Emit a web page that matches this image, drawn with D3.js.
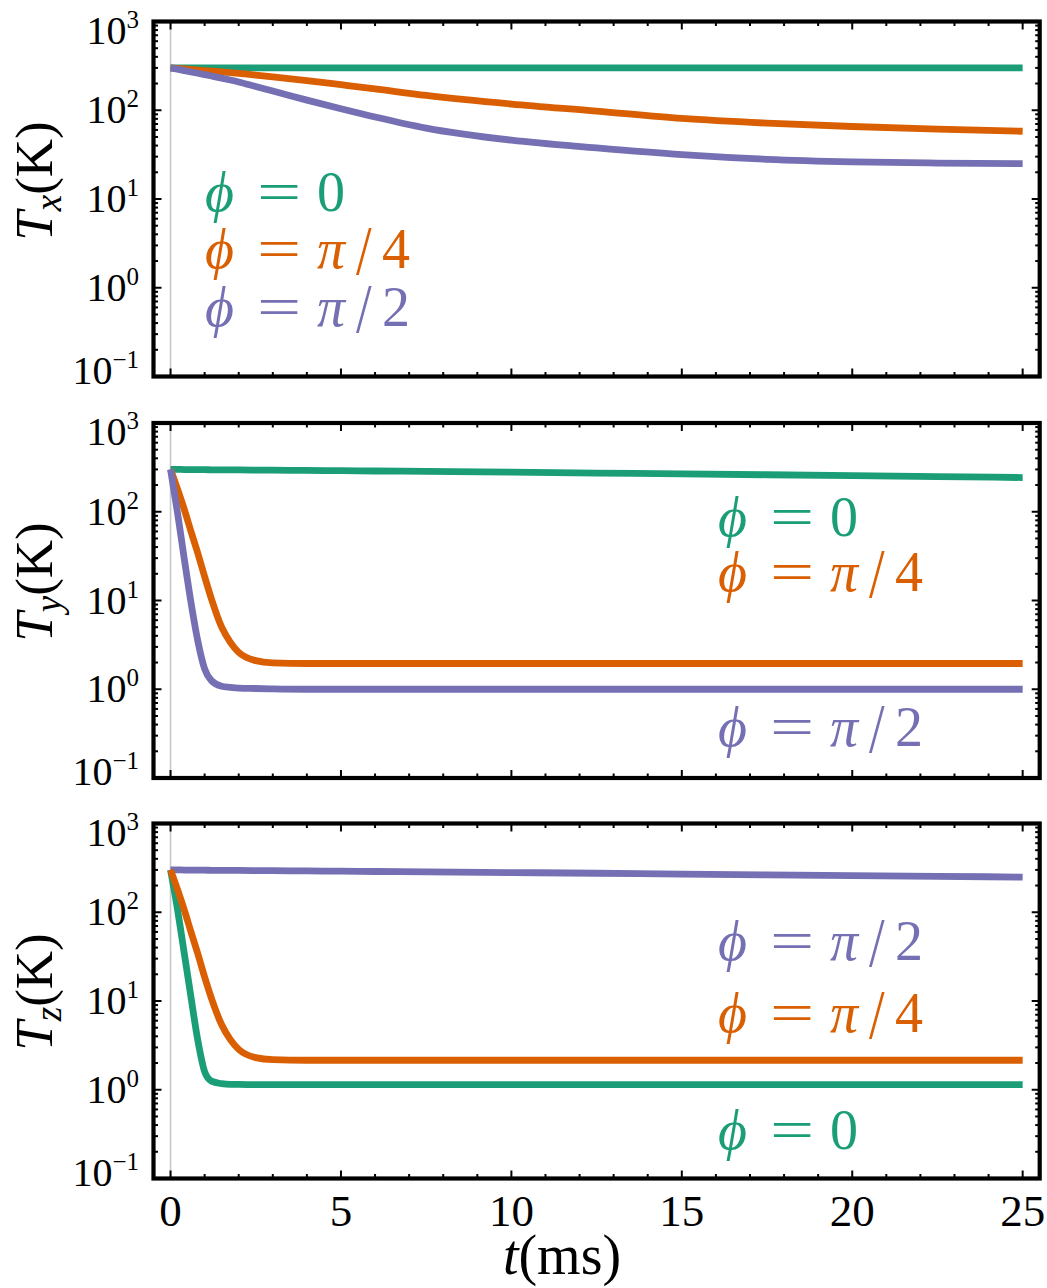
<!DOCTYPE html>
<html>
<head>
<meta charset="utf-8">
<script src="https://cdn.jsdelivr.net/npm/d3@7"></script>
<style>
  body { margin: 0; background: #fff; }
  text { font-family: "Liberation Serif", "DejaVu Serif", serif; fill: #000; }
</style>
</head>
<body>
<div id="chart"></div>
<script>
// sample times (ms), shared by every series
const times = [0, 0.2, 0.4, 0.6, 0.8, 1.0, 1.2, 1.5, 1.75, 2, 2.5, 3, 4, 5, 6, 7.5, 10, 12.5, 15, 17.5, 20, 22.5, 25];

// T_x (K)
const txPhi0  = [300, 300, 300, 300, 300, 300, 300, 300, 300, 300, 300, 300, 300, 300, 300, 300, 300, 300, 300, 300, 300, 300, 300];
const txPhi4  = [300, 296, 292, 288, 284, 280, 276, 271, 266, 260, 249, 238, 216, 194, 174, 147, 117.5, 98, 81, 71.6, 65.6, 61.4, 58];
const txPhi2  = [300, 290, 280, 270, 261, 252, 243, 230, 219, 208, 185, 165, 130, 104, 84, 63, 46, 37.6, 31.6, 28, 26.2, 25.4, 25];

// T_y (K)
const tyPhi0  = [300, 300, 299, 299, 298, 298, 297, 297, 296, 296, 295, 294, 292, 290, 288, 285, 279, 273, 267, 261, 255, 249, 243];
const tyPhi4  = [300, 182, 107, 60, 34, 18.6, 10.4, 5.0, 3.4, 2.6, 2.1, 1.98, 1.95, 1.95, 1.95, 1.95, 1.95, 1.95, 1.95, 1.95, 1.95, 1.95, 1.95];
const tyPhi2  = [300, 100, 30, 9.5, 3.5, 1.7, 1.25, 1.08, 1.05, 1.03, 1.02, 1.01, 1.0, 1.0, 1.0, 1.0, 1.0, 1.0, 1.0, 1.0, 1.0, 1.0, 1.0];

// T_z (K)
const tzPhi0  = [300, 110, 35, 11, 3.6, 1.6, 1.25, 1.17, 1.15, 1.15, 1.14, 1.14, 1.14, 1.14, 1.14, 1.14, 1.14, 1.14, 1.14, 1.14, 1.14, 1.14, 1.14];
const tzPhi4  = [300, 182, 107, 60, 34, 18.6, 10.7, 5.4, 3.7, 2.85, 2.3, 2.18, 2.15, 2.15, 2.15, 2.15, 2.15, 2.15, 2.15, 2.15, 2.15, 2.15, 2.15];
const tzPhi2  = [300, 300, 299, 299, 298, 298, 297, 297, 296, 296, 295, 294, 292, 290, 288, 285, 280, 275, 269, 264, 259, 254, 249];

const yExponents = [3, 2, 1, 0, -1];
const xTickValues = [0, 5, 10, 15, 20, 25];
const phiLabels = { phi0: "0", phi4: "4", phi2: "2" };

const colors = { phi0: "#1b9e77", phi4: "#d95f02", phi2: "#7570b3" };

const svg = d3.select("#chart")
    .append("svg")
    .attr("width", 1047)
    .attr("height", 1288);

const left = 153.5, right = 1039.7, panelH = 355;

const x = d3.scaleLinear().domain([-0.5, 25.5]).range([left, right]);

// one entry per panel: layout + which series go in it
const panels = [
    { top: 21.5, sub: "x", titleY: 181, series: [["phi0", txPhi0], ["phi4", txPhi4], ["phi2", txPhi2]],
      legend: { x: 205, rows: [["phi0", 211], ["phi4", 268], ["phi2", 326]] } },
    { top: 423, sub: "y", titleY: 582, series: [["phi0", tyPhi0], ["phi4", tyPhi4], ["phi2", tyPhi2]],
      legend: { x: 718, rows: [["phi0", 536], ["phi4", 591], ["phi2", 746]] } },
    { top: 823.5, sub: "z", titleY: 992, series: [["phi2", tzPhi2], ["phi0", tzPhi0], ["phi4", tzPhi4]],
      legend: { x: 718, rows: [["phi2", 960], ["phi4", 1032], ["phi0", 1149]] } }
];

panels.forEach((p, pi) => {
    const y = d3.scaleLog().domain([0.1, 1000]).range([p.top + panelH, p.top]);
    const g = svg.append("g");

    // gray line at t = 0
    g.append("line")
        .attr("x1", x(0)).attr("x2", x(0))
        .attr("y1", y(0.1)).attr("y2", y(1000))
        .attr("stroke", "#c8c8c8")
        .attr("stroke-width", 1.6);

    // curves
    const line = d3.line()
        .x((d, i) => x(times[i]))
        .y(d => y(d))
        .curve(d3.curveMonotoneX);

    p.series.forEach(([key, vals]) => {
        g.append("path")
            .attr("d", line(vals))
            .attr("fill", "none")
            .attr("stroke", colors[key])
            .attr("stroke-width", 6.8)
            .attr("stroke-linejoin", "round");
    });

    // log ticks (left + right)
    const minor = [];
    for (let e = -1; e < 3; e++) for (let m = 2; m <= 9; m++) minor.push(m * Math.pow(10, e));
    const yTicks = yExponents.map(e => ({ v: Math.pow(10, e), len: 8 }))
        .concat(minor.map(v => ({ v: v, len: 4.5 })));

    g.selectAll(".ytl").data(yTicks).enter().append("line")
        .attr("x1", left).attr("x2", d => left + d.len)
        .attr("y1", d => y(d.v)).attr("y2", d => y(d.v))
        .attr("stroke", "#000").attr("stroke-width", 2);
    g.selectAll(".ytr").data(yTicks).enter().append("line")
        .attr("x1", right).attr("x2", d => right - d.len)
        .attr("y1", d => y(d.v)).attr("y2", d => y(d.v))
        .attr("stroke", "#000").attr("stroke-width", 2);

    // time ticks (bottom + top)
    const xt = d3.range(0, 26).map(v => ({ v: v, len: v % 5 === 0 ? 8 : 4.5 }));
    g.selectAll(".xtb").data(xt).enter().append("line")
        .attr("x1", d => x(d.v)).attr("x2", d => x(d.v))
        .attr("y1", y(0.1)).attr("y2", d => y(0.1) - d.len)
        .attr("stroke", "#000").attr("stroke-width", 2);
    g.selectAll(".xtt").data(xt).enter().append("line")
        .attr("x1", d => x(d.v)).attr("x2", d => x(d.v))
        .attr("y1", y(1000)).attr("y2", d => y(1000) + d.len)
        .attr("stroke", "#000").attr("stroke-width", 2);

    // frame
    g.append("rect")
        .attr("x", left).attr("y", p.top)
        .attr("width", right - left).attr("height", panelH)
        .attr("fill", "none")
        .attr("stroke", "#000")
        .attr("stroke-width", 4.2);

    // y tick labels 10^k
    yExponents.forEach(e => {
        const off = e === 3 ? 22 : (e === -1 ? 7 : 13);
        const t = g.append("text")
            .attr("x", 139)
            .attr("y", y(Math.pow(10, e)) + off)
            .attr("text-anchor", "end")
            .style("font-size", "40px");
        t.append("tspan").text("10");
        t.append("tspan")
            .attr("dy", -16)
            .style("font-size", "25px")
            .text(e < 0 ? "\u2212" + (-e) : e);
    });

    // y axis title
    const cy = p.titleY;
    const title = g.append("text")
        .attr("transform", `translate(52,${cy}) rotate(-90)`)
        .attr("text-anchor", "middle")
        .style("font-size", "53px");
    title.append("tspan").style("font-style", "italic").text("T");
    title.append("tspan").attr("dy", 9).style("font-style", "italic").style("font-size", "37px").text(p.sub);
    title.append("tspan").attr("dy", -9).text("(K)");

    // legend
    p.legend.rows.forEach(([key, by]) => {
        const lx = p.legend.x;
        const lg = g.append("g");
        lg.append("text").attr("x", lx).attr("y", by)
            .style("font-size", "56px").style("font-style", "italic")
            .style("fill", colors[key]).text("\u03D5");
        lg.append("text").attr("transform", `translate(${lx + 52},${by}) scale(1.4,1)`)
            .style("font-size", "56px")
            .style("fill", colors[key]).text("=");
        if (key === "phi0") {
            lg.append("text").attr("x", lx + 112).attr("y", by)
                .style("font-size", "56px").style("fill", colors[key]).text("0");
        } else {
            lg.append("text").attr("x", lx + 112).attr("y", by)
                .style("font-size", "56px").style("font-style", "italic")
                .style("fill", colors[key]).text("\u03C0");
            lg.append("text").attr("transform", `translate(${lx + 151},${by + 6}) scale(1,1.25)`)
                .style("font-size", "56px")
                .style("fill", colors[key]).text("/");
            lg.append("text").attr("x", lx + 177).attr("y", by)
                .style("font-size", "56px")
                .style("fill", colors[key]).text(phiLabels[key]);
        }
    });

    // x tick labels on the last panel only
    if (pi === panels.length - 1) {
        g.selectAll(".xl").data(xTickValues).enter().append("text")
            .attr("x", d => x(d))
            .attr("y", y(0.1) + 47)
            .attr("text-anchor", "middle")
            .style("font-size", "45px")
            .text(d => d);
    }
});

// x axis title
const xt = svg.append("text")
    .attr("x", 562)
    .attr("y", 1274)
    .attr("text-anchor", "middle")
    .style("font-size", "56px");
xt.append("tspan").style("font-style", "italic").text("t");
xt.append("tspan").text("(ms)");
</script>
</body>
</html>
